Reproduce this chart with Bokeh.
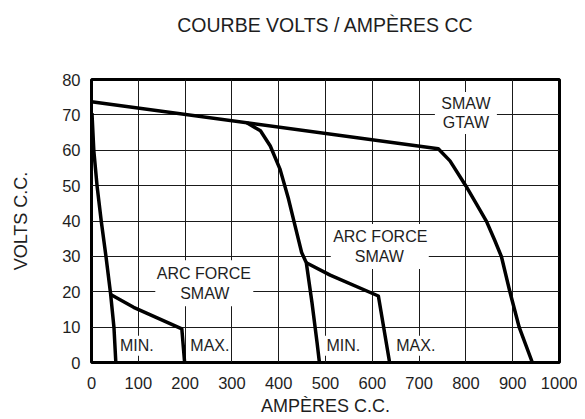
from bokeh.plotting import figure
from bokeh.models import Range1d, FixedTicker, ColumnDataSource, LinearAxis
from bokeh.core.properties import value
from bokeh.embed import file_html
from bokeh.resources import INLINE

# ---- data ----
title_text = "COURBE VOLTS / AMPÈRES CC"
x_label = "AMPÈRES C.C."
y_label = "VOLTS C.C."
x_ticks = [0, 100, 200, 300, 400, 500, 600, 700, 800, 900, 1000]
y_ticks = [0, 10, 20, 30, 40, 50, 60, 70, 80]

# SMAW / GTAW curve (flat top + droop)
gtaw_amps = [0, 741, 766, 800, 823, 844, 862, 876, 894, 914, 942]
gtaw_volts = [73.7, 60.4, 57.0, 49.9, 44.7, 39.9, 34.4, 29.9, 20.0, 9.9, 0]
# middle droop curve
mid_amps = [332, 361, 382, 403, 421, 435, 449, 459, 471, 482, 487]
mid_volts = [67.8, 65.5, 61.2, 54.6, 46.2, 38.6, 31.1, 28.2, 17.0, 5.6, 0]
# low (min) curve
low_amps = [1, 5, 12, 21, 31, 41, 48, 52]
low_volts = [70.5, 59.8, 49.8, 39.8, 29.9, 19.2, 9.9, 0]
# arc force branches
arc1_amps = [41, 90, 193, 199]
arc1_volts = [19.2, 15.6, 9.5, 0]
arc2_amps = [459, 510, 613, 637]
arc2_volts = [28.2, 24.7, 18.8, 0]

# text labels (one entry per line) and their group
label_text = ["ARC FORCE", "SMAW", "ARC FORCE", "SMAW", "SMAW", "GTAW", "MIN.", "MAX.", "MIN.", "MAX."]
label_amps = [240, 242, 617, 615, 800, 800, 97, 253, 538, 693]
label_volts = [25.2, 19.6, 35.5, 30.1, 73.3, 67.8, 4.7, 4.8, 4.7, 4.7]
label_group = [0, 0, 1, 1, 2, 2, 3, 4, 5, 6]

# ---- styling ----
FONT = "Liberation Sans"
INK = "#1e1e1e"
box_w = {0: 98, 1: 98, 2: 62, 3: 40, 4: 42, 5: 40, 6: 42}
box_h = {0: 46, 1: 45, 2: 42, 3: 20, 4: 20, 5: 20, 6: 20}

p = figure(width=577, height=419,
           min_border_left=91, min_border_right=18, min_border_top=79, min_border_bottom=57,
           x_range=Range1d(0, 1000), y_range=Range1d(0, 80),
           output_backend="svg", toolbar_location=None, tools="")
p.title.text = ""

bottom_axis = p.below[0]
left_axis = p.left[0]

for ax, lab, ticks in ((bottom_axis, x_label, x_ticks), (left_axis, y_label, y_ticks)):
    ax.ticker = FixedTicker(ticks=ticks)
    ax.axis_line_color = None
    ax.major_tick_line_color = None
    ax.minor_tick_line_color = None
    ax.major_tick_out = 0
    ax.major_tick_in = 0
    ax.major_label_text_font = FONT
    ax.major_label_text_font_size = "16.5px"
    ax.major_label_text_color = INK
    ax.axis_label = lab
    ax.axis_label_text_font = FONT
    ax.axis_label_text_font_size = "18px"
    ax.axis_label_text_font_style = "normal"
    ax.axis_label_text_color = INK

bottom_axis.major_label_standoff = 14
bottom_axis.axis_label_standoff = 4
left_axis.major_label_standoff = 11
left_axis.axis_label_standoff = 28

# chart title: label of a tick-less axis above the frame
top_axis = LinearAxis(ticker=FixedTicker(ticks=[]), axis_line_color=None,
                      major_tick_line_color=None, minor_tick_line_color=None,
                      major_tick_out=0, major_tick_in=0, major_label_standoff=0,
                      major_label_text_font_size="1px",
                      axis_label=title_text, axis_label_standoff=44,
                      axis_label_text_font=FONT, axis_label_text_font_size="19.5px",
                      axis_label_text_font_style="normal", axis_label_text_color=INK)
p.add_layout(top_axis, "above")

p.outline_line_color = "black"
p.outline_line_width = 3
p.background_fill_color = "white"
p.border_fill_color = "white"

for g in p.renderers[:0]:
    pass
p.xgrid.grid_line_color = "#1a1a1a"
p.ygrid.grid_line_color = "#1a1a1a"
p.xgrid.grid_line_alpha = 1.0
p.ygrid.grid_line_alpha = 1.0
p.xgrid.grid_line_width = 1
p.ygrid.grid_line_width = 1

# white boxes behind the labels (centred on each label group)
groups = sorted(set(label_group))
bx, by, bw, bh = [], [], [], []
for g in groups:
    xs = [a for a, gg in zip(label_amps, label_group) if gg == g]
    ys = [v for v, gg in zip(label_volts, label_group) if gg == g]
    bx.append(sum(xs) / len(xs))
    by.append(sum(ys) / len(ys))
    bw.append(box_w[g])
    bh.append(box_h[g])
p.rect(x=bx, y=by, width=bw, height=bh, width_units="screen", height_units="screen",
       fill_color="white", line_color=None)

lw = 3.5
for xs, ys in ((gtaw_amps, gtaw_volts), (mid_amps, mid_volts), (low_amps, low_volts),
               (arc1_amps, arc1_volts), (arc2_amps, arc2_volts)):
    p.line(xs, ys, line_color="black", line_width=lw, line_join="round", line_cap="butt")

src = ColumnDataSource(dict(x=label_amps, y=label_volts, t=label_text))
p.text(x="x", y="y", text="t", source=src, text_font=value(FONT), text_font_size="16px",
       text_align="center", text_baseline="middle", text_color=INK)

open("out.html", "w").write(file_html(p, INLINE))
